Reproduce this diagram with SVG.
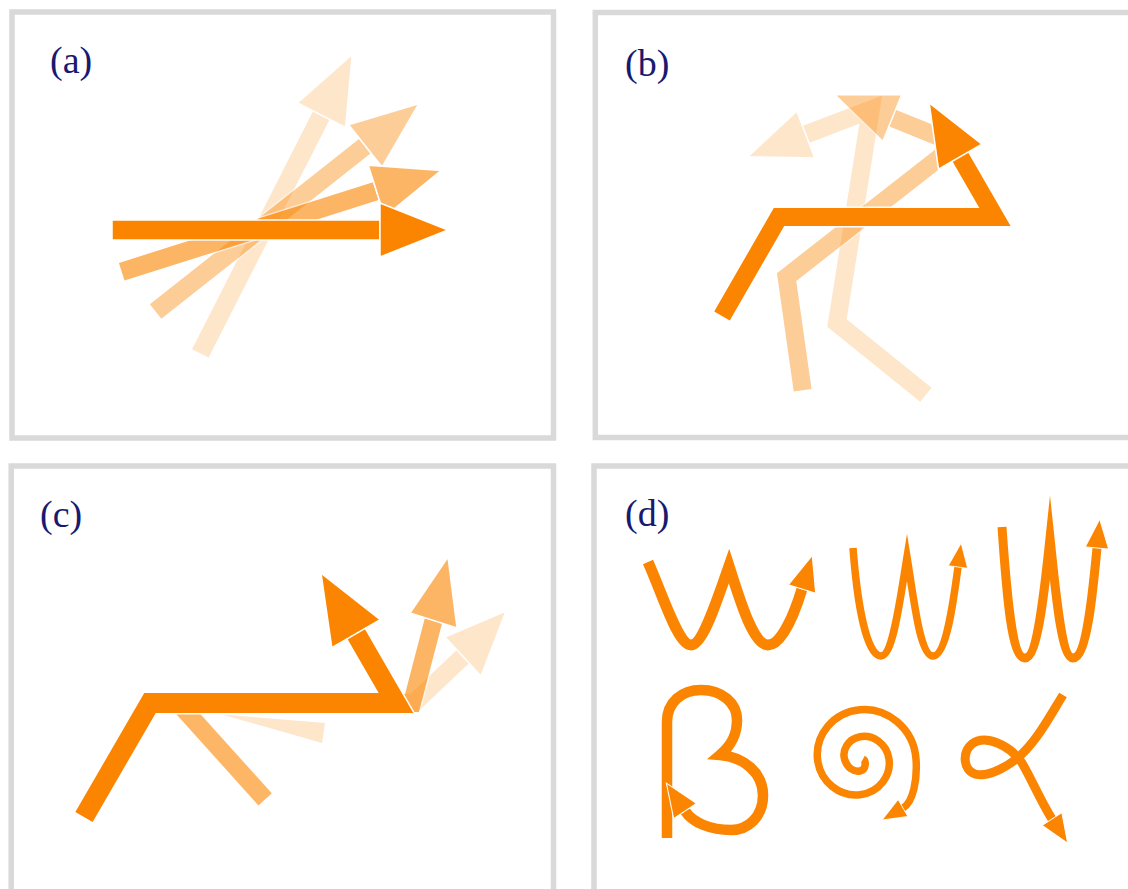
<svg xmlns="http://www.w3.org/2000/svg" xmlns:xlink="http://www.w3.org/1999/xlink" width="1128" height="889" viewBox="0 0 1128 889">
<style>
.frame{fill:#fff;stroke:#d9d9d9;stroke-width:5.5}
.lbl{font-family:"Liberation Serif","Times New Roman",serif;font-size:38px;fill:#191970}
.or{fill:#fb8500;stroke:#fff;stroke-width:1.5}
.wl{fill:none;stroke:#fff;stroke-linejoin:miter;stroke-linecap:butt}
.ol{fill:none;stroke:#fb8500;stroke-linejoin:miter;stroke-linecap:butt}
.cv{fill:none;stroke:#fb8500;stroke-linejoin:miter;stroke-miterlimit:20;stroke-linecap:butt;marker-end:url(#head)}
</style>
<defs>
<marker id="head" viewBox="0 -2 4 4" refX="0" refY="0" markerWidth="4" markerHeight="4" orient="auto" markerUnits="strokeWidth" overflow="visible">
<path d="M0,-1.3 L3.2,0 L0,1.3 Z" fill="#fb8500" stroke="#fff" stroke-width="0.1"/>
</marker>
<g id="arrowA">
<rect x="0" y="-10" width="268" height="20" class="or"/>
<polygon points="268,-27 336,0 268,27" class="or"/>
</g>
<g id="shapeB">
<path d="M722 316 L779 217 L995 217 L960.2 156.7" class="wl" stroke-width="21"/>
<path d="M722 316 L779 217 L995 217 L960.2 156.7" class="ol" stroke-width="18"/>
<polygon points="981.9,144.2 929.2,103 938.5,169.2" class="or"/>
</g>
</defs>
<rect x="0" y="0" width="1128" height="889" fill="#fff"/>

<g id="panel-a">
<rect class="frame" x="12" y="12" width="541.5" height="426"/>
<text class="lbl" x="50" y="73">(a)</text>
<g id="arrows-a">
<use xlink:href="#arrowA" href="#arrowA" transform="translate(200 354) rotate(-63.05)" opacity="0.2"/>
<use xlink:href="#arrowA" href="#arrowA" transform="translate(155 312) rotate(-38.3)" opacity="0.4"/>
<use xlink:href="#arrowA" href="#arrowA" transform="translate(121 272) rotate(-17.6)" opacity="0.6"/>
<use xlink:href="#arrowA" href="#arrowA" transform="translate(112 230)"/>
</g>
</g>

<g id="panel-b">
<rect class="frame" x="595.3" y="12.5" width="600" height="425"/>
<text class="lbl" x="625" y="76">(b)</text>
<g id="arrows-b">
<use xlink:href="#shapeB" href="#shapeB" transform="rotate(-81 870 236)" opacity="0.2"/>
<use xlink:href="#shapeB" href="#shapeB" transform="rotate(-38 870 236)" opacity="0.4"/>
<use xlink:href="#shapeB" href="#shapeB"/>
</g>
</g>

<g id="panel-c">
<rect class="frame" x="11.2" y="466" width="542.3" height="440"/>
<text class="lbl" x="40" y="527">(c)</text>
<g id="arrows-c">
<g id="c-light" opacity="0.2">
<polygon points="222,714.5 325,723 322,743" fill="#fb8500"/>
<path d="M300 703 L414 703 L463 656.5" class="wl" stroke-width="21"/>
<path d="M300 703 L414 703 L463 656.5" class="ol" stroke-width="18"/>
<polygon points="445,637 506,611 481,676" class="or"/>
</g>
<g id="c-medium" opacity="0.6">
<polygon points="168,705 192.2,705 271.8,793.3 258.4,805.4" fill="#fb8500"/>
<path d="M300 703 L412 703 L433.5 620.5" class="wl" stroke-width="21"/>
<path d="M300 703 L412 703 L433.5 620.5" class="ol" stroke-width="18"/>
<polygon points="410,613 448,557 457,628" class="or"/>
</g>
<g id="c-main">
<path d="M84 817 L150 703 L396 703 L356 633.7" class="wl" stroke-width="23"/>
<path d="M84 817 L150 703 L396 703 L356 633.7" class="ol" stroke-width="20"/>
<polygon points="380.2,619.7 321,573.1 331.8,647.7" class="or"/>
</g>
</g>
</g>

<g id="panel-d">
<rect class="frame" x="594" y="466" width="600" height="440"/>
<text class="lbl" x="625" y="526">(d)</text>
<g id="arrows-d">
<path id="w1" class="cv" stroke-width="11" d="M648 562 C664 598,678 645,691 645 C703 645,717 600,729 566 C740 600,753 645,768 645 C782 645,795 612,802 589"/>
<path id="w2" class="cv" stroke-width="7.5" d="M853 548 C857 600,866 656,881 656 C893 656,900 600,907 557 C914 600,920 656,933 656 C946 656,953 605,958 567"/>
<path id="w3" class="cv" stroke-width="9" d="M1002 527 C1007 600,1012 658,1025 658 C1038 658,1045 585,1050 538 C1055 585,1061 658,1073 658 C1087 658,1093 590,1097 548"/>
<path id="beta" class="cv" stroke-width="10.5" d="M667 838 L667 722 C667 702,682 690,701 690 C722 690,737 703,737 720 C737 733,733 744,720 755 C744 757,763 773,763 795 C763 817,748 830,731 830 C711 830,693 823,685 811"/>
<path id="spiral" class="cv" stroke-width="7.5" d="M863 759 C866.1 760.65,866.6 769.8,860 771 C853.4 772.2,846.9 767.5,844.5 759 C842.1 750.5,847.8 739.1,860 736.75 C872.2 734.4,886.6 743.1,889 759 C891.4 775,879.7 792.4,860 794.75 C840.3 797.1,819.9 782.4,817.5 759 C815.1 735.6,832.9 712.1,860 709.75 C887.1 707.4,913.6 728.2,916 759 C917.5 779,913.4 802,903 808"/>
<path id="alpha" class="cv" stroke-width="9" d="M1063 695 C1050 716,1035 745,1015 760 C1000 771,985 777,975 774 C963 770,962 752,972 744 C985 734,1010 745,1022 763 C1032 780,1041 802,1052 819"/>
</g>
</g>
</svg>
